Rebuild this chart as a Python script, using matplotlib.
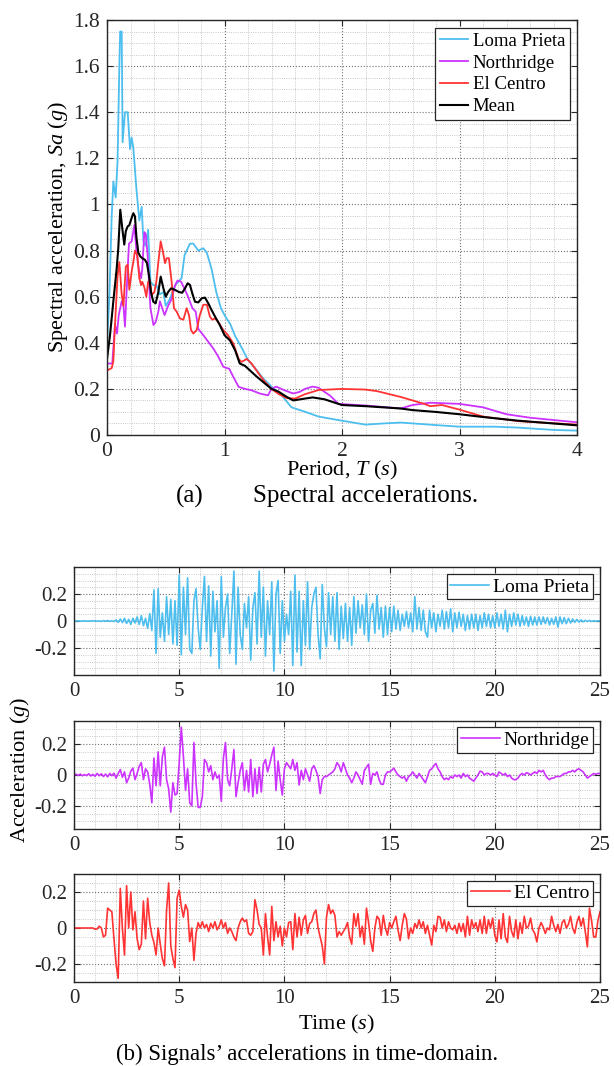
import numpy as np
import matplotlib
matplotlib.use("Agg")
import matplotlib.pyplot as plt
from matplotlib.ticker import MultipleLocator

plt.rcParams['font.family'] = ['Liberation Serif', 'DejaVu Serif']
plt.rcParams['mathtext.fontset'] = 'custom'
plt.rcParams['mathtext.rm'] = 'Liberation Serif'
plt.rcParams['mathtext.it'] = 'Liberation Serif:italic'

# ---- (a) spectral accelerations ----
T_loma = [0, 0.02, 0.04, 0.054, 0.074, 0.09, 0.105, 0.112, 0.125, 0.133, 0.153, 0.176, 0.196, 0.21, 0.224,
          0.25, 0.275, 0.295, 0.31, 0.33, 0.35, 0.37, 0.395, 0.42, 0.45, 0.48, 0.5, 0.535, 0.58, 0.607,
          0.635, 0.66, 0.706, 0.735, 0.777, 0.82, 0.85, 0.89, 0.93, 0.97, 1.0, 1.05, 1.09, 1.15, 1.2,
          1.26, 1.33, 1.4, 1.49, 1.57, 1.69, 1.8, 2.0, 2.2, 2.35, 2.5, 2.8, 3.0, 3.3, 3.5, 3.8, 4.0]
Sa_loma = [0.39, 0.6, 0.95, 1.10, 1.03, 1.19, 1.6, 1.75, 1.75, 1.27, 1.40, 1.40, 1.24, 1.29, 1.245,
           1.07, 0.93, 0.99, 0.84, 0.82, 0.89, 0.665, 0.65, 0.65, 0.61, 0.62, 0.56, 0.59, 0.65, 0.665,
           0.68, 0.78, 0.83, 0.83, 0.80, 0.81, 0.79, 0.72, 0.62, 0.55, 0.52, 0.48, 0.43, 0.375, 0.325,
           0.29, 0.245, 0.21, 0.17, 0.12, 0.10, 0.08, 0.062, 0.045, 0.05, 0.054, 0.043, 0.036, 0.036, 0.032, 0.022, 0.019]

T_north = [0, 0.045, 0.068, 0.085, 0.10, 0.125, 0.14, 0.153, 0.173, 0.187, 0.21, 0.233, 0.25, 0.27, 0.29,
           0.30, 0.318, 0.33, 0.346, 0.357, 0.37, 0.395, 0.414, 0.437, 0.45, 0.47, 0.49, 0.52, 0.55, 0.58,
           0.60, 0.63, 0.658, 0.69, 0.727, 0.755, 0.777, 0.82, 0.862, 0.905, 0.947, 0.99, 1.02, 1.04, 1.075,
           1.12, 1.174, 1.23, 1.30, 1.37, 1.40, 1.44, 1.51, 1.585, 1.64, 1.685, 1.75, 1.8, 1.9, 1.97, 2.2,
           2.5, 2.6, 2.75, 3.0, 3.2, 3.4, 3.6, 3.8, 4.0]
Sa_north = [0.31, 0.31, 0.48, 0.44, 0.52, 0.58, 0.56, 0.47, 0.69, 0.83, 0.84, 0.91, 0.80, 0.72, 0.68,
            0.72, 0.88, 0.87, 0.78, 0.665, 0.55, 0.477, 0.49, 0.535, 0.58, 0.55, 0.52, 0.56, 0.59, 0.65,
            0.67, 0.665, 0.636, 0.60, 0.55, 0.535, 0.46, 0.433, 0.404, 0.375, 0.34, 0.296, 0.29, 0.288, 0.252,
            0.209, 0.20, 0.194, 0.18, 0.172, 0.20, 0.21, 0.194, 0.18, 0.187, 0.20, 0.21, 0.205, 0.17, 0.135, 0.128,
            0.115, 0.13, 0.14, 0.135, 0.12, 0.09, 0.075, 0.065, 0.055]

T_elc = [0, 0.04, 0.054, 0.068, 0.09, 0.105, 0.125, 0.14, 0.16, 0.176, 0.19, 0.21, 0.224, 0.238, 0.258,
         0.275, 0.29, 0.30, 0.318, 0.335, 0.35, 0.366, 0.38, 0.403, 0.42, 0.437, 0.457, 0.474, 0.494, 0.508,
         0.527, 0.55, 0.57, 0.593, 0.62, 0.65, 0.678, 0.698, 0.715, 0.735, 0.763, 0.79, 0.82, 0.85, 0.876,
         0.896, 0.92, 0.947, 0.99, 1.03, 1.075, 1.12, 1.145, 1.19, 1.23, 1.29, 1.345, 1.40, 1.46, 1.53,
         1.60, 1.685, 1.8, 2.0, 2.2, 2.3, 2.5, 2.7, 2.75, 2.85, 3.0, 3.2, 3.5, 4.0]
Sa_elc = [0.28, 0.29, 0.32, 0.477, 0.69, 0.75, 0.61, 0.56, 0.73, 0.74, 0.63, 0.71, 0.75, 0.80, 0.78,
          0.68, 0.65, 0.665, 0.64, 0.60, 0.665, 0.67, 0.607, 0.62, 0.665, 0.75, 0.84, 0.80, 0.745, 0.767,
          0.767, 0.665, 0.55, 0.535, 0.506, 0.50, 0.55, 0.52, 0.455, 0.44, 0.455, 0.52, 0.565, 0.565, 0.513,
          0.50, 0.506, 0.49, 0.455, 0.433, 0.397, 0.33, 0.317, 0.33, 0.31, 0.267, 0.23, 0.20, 0.178, 0.16,
          0.158, 0.177, 0.195, 0.2, 0.197, 0.19, 0.165, 0.135, 0.125, 0.13, 0.11, 0.08, 0.06, 0.045]

T_mean = [0, 0.025, 0.054, 0.082, 0.096, 0.113, 0.13, 0.147, 0.16, 0.176, 0.19, 0.204, 0.224, 0.238, 0.25,
          0.267, 0.284, 0.30, 0.323, 0.34, 0.357, 0.374, 0.394, 0.414, 0.437, 0.457, 0.48, 0.50, 0.52, 0.545,
          0.58, 0.613, 0.64, 0.664, 0.686, 0.706, 0.726, 0.749, 0.777, 0.806, 0.834, 0.862, 0.89, 0.92, 0.96,
          1.0, 1.047, 1.09, 1.13, 1.174, 1.217, 1.27, 1.345, 1.40, 1.46, 1.53, 1.585, 1.685, 1.75, 1.85,
          2.0, 2.2, 2.5, 2.6, 2.8, 3.0, 3.2, 3.5, 3.8, 4.0]
Sa_mean = [0.33, 0.43, 0.58, 0.72, 0.81, 0.977, 0.897, 0.826, 0.884, 0.905, 0.91, 0.933, 0.962, 0.948, 0.86,
           0.79, 0.774, 0.767, 0.76, 0.745, 0.694, 0.62, 0.578, 0.571, 0.62, 0.687, 0.636, 0.60, 0.62, 0.636,
           0.629, 0.62, 0.617, 0.636, 0.658, 0.651, 0.614, 0.578, 0.575, 0.593, 0.596, 0.571, 0.542, 0.513, 0.477,
           0.433, 0.41, 0.368, 0.31, 0.30, 0.28, 0.255, 0.223, 0.20, 0.188, 0.165, 0.15, 0.158, 0.163, 0.155,
           0.13, 0.125, 0.115, 0.108, 0.10, 0.09, 0.078, 0.062, 0.05, 0.042]

# ---- (b) accelerations, sampled every 0.1 s (0 .. 25 s) ----
dt = 0.1
acc_loma = [
    0, 0, 0.001, -0.001, 0, 0.001, 0, -0.001, 0.001, 0,
    0.002, -0.002, 0.001, -0.003, 0.003, -0.002, 0.004, -0.003, 0.002, -0.004,
    0.008, -0.01, 0.015, -0.012, 0.02, -0.018, 0.012, -0.025, 0.02, -0.015,
    0.03, -0.025, 0.04, -0.035, 0.02, -0.055, 0.055, -0.07, 0.23, -0.24,
    0.24, -0.12, 0.06, -0.15, 0.18, -0.1, 0.16, -0.17, 0.15, -0.18,
    0.34, -0.25, 0.25, -0.1, 0.32, -0.21, -0.24, 0.15, 0.24, -0.05,
    -0.21, 0.1, 0.33, -0.15, 0.26, -0.26, 0.22, -0.08, 0.15, -0.35,
    0.33, -0.12, 0.1, 0.2, -0.24, 0.05, 0.37, -0.32, 0.25, -0.1,
    -0.21, 0.13, -0.05, 0.18, -0.29, 0.1, 0.21, -0.17, 0.37, -0.12,
    0.25, -0.26, 0.15, -0.1, 0.29, -0.37, 0.2, 0.3, -0.24, 0.15,
    -0.15, 0.05, -0.1, 0.22, -0.33, 0.34, -0.23, 0.22, -0.33, 0.15,
    -0.18, 0.29, -0.21, 0.1, 0.2, 0.25, -0.1, -0.28, 0.27, -0.05,
    -0.19, 0.21, -0.1, 0.18, -0.15, 0.21, -0.21, 0.11, -0.13, 0.13,
    -0.15, 0.1, -0.18, 0.18, -0.09, 0.15, -0.05, 0.12, -0.1, 0.2,
    -0.15, 0.08, 0.13, -0.09, 0.19, -0.06, 0.1, -0.12, 0.11, -0.1,
    0.1, -0.08, 0.11, -0.06, 0.08, -0.07, 0.05, -0.04, 0.07, -0.05,
    0.06, -0.08, 0.18, -0.06, 0.1, -0.07, 0.08, -0.08, -0.12, 0.08,
    -0.05, 0.06, -0.08, 0.05, -0.04, 0.08, -0.06, 0.07, -0.05, 0.09,
    -0.08, 0.06, -0.05, 0.065, -0.04, 0.05, -0.07, 0.04, -0.06, 0.05,
    -0.05, 0.05, -0.07, 0.04, -0.05, 0.06, -0.04, 0.05, -0.05, 0.04,
    -0.05, 0.06, -0.04, 0.05, -0.06, 0.08, -0.08, 0.05, -0.04, 0.06,
    -0.03, 0.05, -0.04, 0.04, -0.03, 0.03, -0.04, 0.035, -0.03, 0.03,
    -0.03, 0.03, -0.025, 0.03, -0.02, 0.025, -0.03, 0.02, -0.025, 0.03,
    -0.045, 0.03, -0.02, 0.025, -0.02, 0.02, -0.015, 0.015, -0.01, 0.012,
    -0.008, 0.008, -0.006, 0.005, -0.004, 0.004, -0.003, 0.002, -0.002, 0.001,
    0]

acc_north = [
    0, 0.005, -0.003, 0.006, -0.005, 0.003, -0.004, 0.008, -0.006, 0.004,
    -0.008, 0.01, -0.005, 0.008, -0.01, 0.006, -0.012, 0.01, -0.005, 0.012,
    -0.02, 0.01, 0.035, -0.015, 0.02, -0.05, -0.02, 0.025, 0.045, -0.03,
    0.01, 0.056, 0.08, -0.03, 0.04, 0.02, -0.06, -0.18, 0.11, -0.07,
    0.15, -0.07, 0.12, 0.18, -0.03, -0.09, -0.24, -0.05, -0.13, -0.12,
    0.08, 0.31, 0.12, -0.1, 0.04, -0.18, -0.2, 0.21, -0.05, -0.21,
    -0.21, -0.14, 0.1, 0.08, 0.02, 0.06, -0.03, 0.02, -0.02, 0.0,
    -0.17, 0.11, 0.21, -0.03, -0.07, 0.04, 0.165, -0.14, -0.05, 0.03,
    0.08, -0.1, 0.03, -0.11, 0.1, -0.14, 0.04, -0.12, 0.05, -0.11,
    0.07, 0.1, 0.02, 0.07, 0.13, 0.18, -0.1, 0.09, -0.03, -0.13,
    0.04, 0.08, 0.06, 0.04, 0.1, 0.03, 0.08, -0.065, 0.03, -0.03,
    0.04, 0.0, -0.04, 0.04, 0.06, 0.03, -0.01, -0.12, -0.03, -0.01,
    -0.01, 0.0, 0.01, 0.02, 0.04, 0.08, 0.06, 0.02, 0.08, 0.04,
    0.0, -0.02, -0.05, -0.02, 0.02, 0.0, -0.03, -0.06, 0.03, 0.05,
    0.07, -0.06, 0.01, 0.0, 0.02, -0.03, -0.06, -0.06, 0.0, 0.02,
    0.02, 0.03, 0.045, 0.02, 0.0, -0.01, -0.02, -0.01, -0.04, -0.01,
    0.0, 0.02, 0.0, -0.02, 0.01, -0.01, -0.03, -0.05, -0.01, 0.03,
    0.04, 0.06, 0.075, 0.04, 0.02, -0.01, -0.03, -0.02, -0.03, -0.01,
    -0.02, 0.0, -0.01, 0.0, -0.02, 0.01, -0.01, 0.0, -0.02, -0.03,
    -0.04, -0.02, 0.0, 0.025, 0.02, 0.0, 0.01, 0.01, 0.0, 0.01,
    0.0, -0.01, 0.02, 0.01, 0.0, 0.01, -0.01, 0.0, -0.02, -0.03,
    -0.03, -0.02, 0.0, 0.01, 0.0, 0.015, 0.01, 0.0, 0.01, 0.02,
    0.01, 0.03, 0.02, 0.03, 0.0, -0.02, -0.03, -0.02, -0.02, -0.01,
    -0.01, -0.01, 0.0, 0.01, 0.01, 0.02, 0.02, 0.03, 0.02, 0.035,
    0.04, 0.03, 0.02, 0.0, -0.02, -0.01, 0.0, 0.01, 0.005, 0.01,
    0.01]

acc_elc = [
    0, 0, 0, 0, 0, 0, 0, 0, 0, 0,
    -0.007, -0.005, 0.01, 0.0, -0.05, -0.04, 0.11, 0.10, 0.09, -0.06,
    -0.2, -0.28, 0.22, 0.0, -0.15, 0.235, 0.0, 0.2, -0.01, 0.09,
    -0.06, -0.12, -0.09, 0.15, -0.06, 0.165, 0.03, -0.04, -0.08, -0.15,
    0.0, -0.09, -0.17, -0.21, 0.1, 0.25, -0.1, -0.17, -0.22, 0.165,
    0.21, 0.12, 0.06, 0.13, 0.1, -0.075, 0.0, -0.18, -0.03, 0.03,
    0.0, 0.035, 0.0, 0.02, -0.02, 0.026, 0.0, 0.035, -0.01, 0.01,
    0.045, 0.0, 0.03, -0.03, 0.0, -0.02, -0.05, -0.07, 0.0, 0.035,
    0.055, 0.035, 0.045, -0.03, -0.04, -0.02, 0.157, 0.1, 0.02, 0.0,
    -0.15, 0.08, -0.05, -0.15, 0.12, -0.07, 0.035, -0.05, 0.01, -0.1,
    0.0, -0.05, 0.03, 0.035, -0.12, 0.08, -0.05, 0.06, -0.04, 0.045,
    0.07, -0.03, 0.025, 0.035, 0.08, 0.1, 0.0, -0.05, -0.1, -0.2,
    0.06, 0.13, 0.08, 0.1, 0.07, -0.05, -0.02, -0.04, -0.02, 0.0,
    0.03, -0.05, -0.09, 0.08, 0.01, 0.08, -0.05, 0.01, -0.09, 0.11,
    0.03, -0.07, -0.13, 0.0, 0.065, 0.05, -0.04, 0.07, 0.0, -0.04,
    0.03, 0.0, 0.035, 0.065, -0.01, -0.07, 0.015, 0.08, 0.05, -0.06,
    0.0, -0.03, 0.025, 0.0, 0.045, 0.0, 0.035, -0.03, 0.015, -0.04,
    -0.095, 0.015, -0.02, 0.065, 0.06, 0.0, 0.045, -0.02, 0.035, 0.0,
    -0.01, 0.015, -0.03, 0.026, -0.02, 0.025, -0.05, 0.065, -0.04, 0.045,
    0.0, 0.03, -0.02, 0.045, -0.03, 0.065, -0.03, 0.045, 0.0, 0.055,
    -0.04, -0.077, 0.045, -0.06, 0.08, -0.05, -0.08, 0.065, -0.02, -0.05,
    0.045, -0.06, 0.03, -0.03, 0.065, 0.0, 0.01, 0.055, -0.01, -0.03,
    -0.077, 0.0, 0.03, 0.005, -0.03, 0.0, -0.01, 0.065, 0.015, -0.02,
    0.02, -0.03, 0.03, 0.045, 0.0, 0.02, 0.065, 0.0, -0.03, 0.03,
    0.065, 0.01, 0.055, -0.02, -0.105, 0.11, 0.04, -0.05, -0.05, 0.04,
    0.09]

names = ['Loma Prieta', 'Northridge', 'El Centro']
c_loma = '#4DBEEE'
c_north = '#CC33FF'
c_elc = '#FF3333'

W, H = 614, 1066
fig = plt.figure(figsize=(W / 100, H / 100), dpi=100)


def style_axes(ax, xminor, yminor, fs):
    ax.xaxis.set_minor_locator(MultipleLocator(xminor))
    ax.yaxis.set_minor_locator(MultipleLocator(yminor))
    ax.grid(True, which='major', color='0.45', linestyle=':', linewidth=0.8)
    ax.grid(True, which='minor', color='0.72', linestyle=':', linewidth=0.6)
    ax.set_axisbelow(True)
    ax.tick_params(which='both', direction='in', top=True, right=True)
    ax.tick_params(which='major', length=4, width=0.8, labelsize=fs, colors='#262626', pad=5)
    ax.tick_params(which='minor', length=0)
    for s in ax.spines.values():
        s.set_color('#262626')
        s.set_linewidth(1.0)


# ---- top panel ----
ax = fig.add_axes([107 / W, 1 - 435 / H, 470 / W, 415 / H])
ax.plot(T_loma, Sa_loma, color=c_loma, lw=1.3, label='Loma Prieta')
ax.plot(T_north, Sa_north, color=c_north, lw=1.3, label='Northridge')
ax.plot(T_elc, Sa_elc, color=c_elc, lw=1.3, label='El Centro')
ax.plot(T_mean, Sa_mean, color='black', lw=1.5, label='Mean')
ax.set_xlim(0, 4)
ax.set_ylim(0, 1.8)
ax.set_xticks([0, 1, 2, 3, 4])
ax.set_yticks(np.arange(0, 1.81, 0.2))
ax.set_yticklabels(['0', '0.2', '0.4', '0.6', '0.8', '1', '1.2', '1.4', '1.6', '1.8'])
style_axes(ax, 0.2, 0.05, 15.5)
ax.set_xlabel(r'Period, $T$ ($s$)', fontsize=16, va='top')
ax.xaxis.set_label_coords(0.5, -(459 - 435) / 415)
ax.set_ylabel(r'Spectral acceleration, $Sa$ ($g$)', fontsize=16, labelpad=2)
leg = ax.legend(loc='upper right', bbox_to_anchor=(0.985, 0.981), borderaxespad=0,
                fontsize=13.5, fancybox=False, framealpha=1, edgecolor='#262626',
                handlelength=1.5, handletextpad=0.25, labelspacing=0.25, borderpad=0.25)
leg.get_frame().set_linewidth(0.9)
fig.text(190 / W, 1 - 496 / H, '(a)', ha='center', va='center', fontsize=18)
fig.text(253 / W, 1 - 496 / H, 'Spectral accelerations.', ha='left', va='center', fontsize=18)

# ---- bottom panels ----
t = np.arange(len(acc_loma)) * dt
series = [acc_loma, acc_north, acc_elc]
colors = [c_loma, c_north, c_elc]
tops = [567, 721, 874]
ylims = [(-0.4, 0.4), (-0.35, 0.35), (-0.3, 0.3)]
leg_top = [0.935, 0.942, 0.937]
for i in range(3):
    axb = fig.add_axes([74 / W, 1 - (tops[i] + 108) / H, 526 / W, 108 / H])
    axb.plot(t, series[i], color=colors[i], lw=1.2, label=names[i])
    axb.set_xlim(0, 25)
    axb.set_ylim(*ylims[i])
    axb.set_xticks([0, 5, 10, 15, 20, 25])
    axb.set_yticks([-0.2, 0, 0.2])
    axb.set_yticklabels(['-0.2', '0', '0.2'])
    style_axes(axb, 1, 0.05, 15)
    lg = axb.legend(loc='upper right', bbox_to_anchor=(0.987, leg_top[i]), borderaxespad=0,
                    fontsize=14, fancybox=False, framealpha=1, edgecolor='#262626',
                    handlelength=2.0, handletextpad=0.2, borderpad=0.2)
    lg.get_frame().set_linewidth(0.9)
    if i == 2:
        axb.set_xlabel(r'Time ($s$)', fontsize=16, va='top')
        axb.xaxis.set_label_coords(0.5, -(1013 - 982) / 108)

fig.text(20 / W, 1 - 770 / H, r'Acceleration ($g$)', rotation=90, ha='center', va='center', fontsize=16)
fig.text(307 / W, 1 - 1054 / H, '(b) Signals\u2019 accelerations in time-domain.', ha='center', va='center',
         fontsize=16.5)

fig.savefig('out.png', dpi=100)
